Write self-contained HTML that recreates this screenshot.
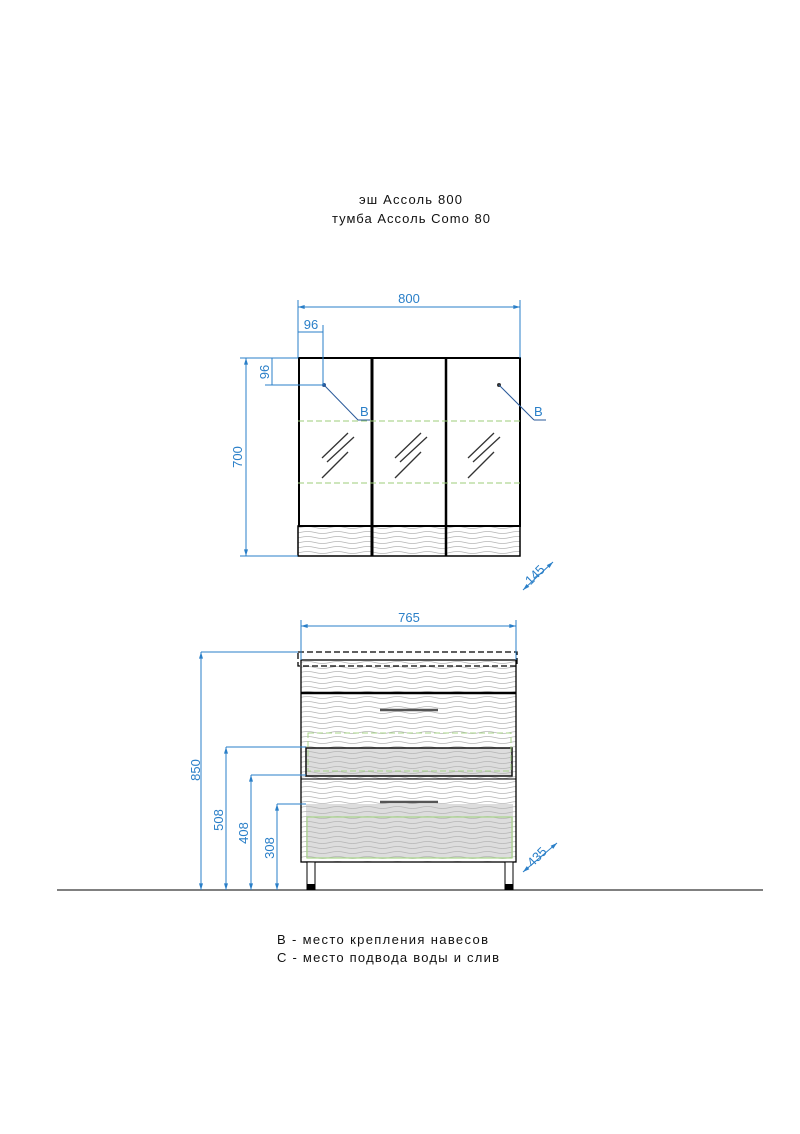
<!DOCTYPE html>
<html><head><meta charset="utf-8"><style>
html,body{margin:0;padding:0;background:#fff;}
svg{display:block;}
text{font-family:"Liberation Sans",sans-serif;}
</style></head><body>
<svg width="800" height="1134" viewBox="0 0 800 1134" xmlns="http://www.w3.org/2000/svg">
<defs>
<pattern id="wv" width="60" height="5" patternUnits="userSpaceOnUse">
<path d="M0 2.5 Q7.5 0.5 15 2.5 T30 2.5 T45 2.5 T60 2.5" fill="none" stroke="#b5b5b5" stroke-width="0.8"/>
</pattern>
<marker id="ar" viewBox="0 0 10 6" refX="10" refY="3" markerWidth="7" markerHeight="4" orient="auto-start-reverse"><path d="M0 0L10 3L0 6z" fill="#2a7fc8"/></marker>
</defs>
<g font-size="13" fill="#111">
<text x="359" y="204" textLength="103">эш Ассоль 800</text>
<text x="332" y="223" textLength="158">тумба Ассоль Como 80</text>
<text x="277" y="944" textLength="211">B - место крепления навесов</text>
<text x="277" y="962" textLength="222">C - место подвода воды и слив</text>
</g>

<!-- mirror cabinet -->
<rect x="298" y="526" width="222" height="30" fill="url(#wv)"/>
<rect x="298" y="526" width="222" height="30" fill="none" stroke="#000" stroke-width="1.5"/>
<rect x="299" y="358" width="221" height="168" fill="none" stroke="#000" stroke-width="2"/>
<line x1="372" y1="358" x2="372" y2="556" stroke="#000" stroke-width="3"/>
<line x1="446" y1="358" x2="446" y2="556" stroke="#000" stroke-width="2.5"/>
<line x1="298" y1="421" x2="520" y2="421" stroke="#9ccc7a" stroke-dasharray="6,3"/>
<line x1="298" y1="483" x2="520" y2="483" stroke="#9ccc7a" stroke-dasharray="6,3"/>
<g stroke="#333" stroke-width="1.3">
<line x1="322" y1="458" x2="348" y2="433"/><line x1="327" y1="462" x2="354" y2="437"/><line x1="322" y1="478" x2="348" y2="452"/>
<line x1="395" y1="458" x2="421" y2="433"/><line x1="400" y1="462" x2="427" y2="437"/><line x1="395" y1="478" x2="421" y2="452"/>
<line x1="468" y1="458" x2="494" y2="433"/><line x1="473" y1="462" x2="500" y2="437"/><line x1="468" y1="478" x2="494" y2="452"/>
</g>
<circle cx="324" cy="385" r="2" fill="#2a5a9a"/>
<circle cx="499" cy="385" r="2" fill="#333"/>
<g stroke="#2a5a9a" stroke-width="1" fill="none">
<line x1="324" y1="385" x2="358" y2="420"/><line x1="358" y1="420" x2="370" y2="420"/>
<line x1="499" y1="385" x2="534" y2="420"/><line x1="534" y1="420" x2="546" y2="420"/>
</g>
<g fill="#2a7fc8" font-size="13">
<text x="360" y="416">B</text><text x="534" y="416">B</text>
</g>

<!-- mirror dims -->
<g stroke="#2a7fc8" stroke-width="1" fill="none">
<line x1="298" y1="300" x2="298" y2="358"/><line x1="520" y1="300" x2="520" y2="358"/>
<line x1="298" y1="307" x2="520" y2="307" marker-start="url(#ar)" marker-end="url(#ar)"/>
<line x1="323" y1="325" x2="323" y2="385"/>
<line x1="298" y1="332" x2="323" y2="332"/>
<line x1="265" y1="385" x2="323" y2="385"/><line x1="265" y1="358" x2="298" y2="358"/>
<line x1="272" y1="358" x2="272" y2="385"/>
<line x1="240" y1="358" x2="298" y2="358"/><line x1="240" y1="556" x2="298" y2="556"/>
<line x1="246" y1="358" x2="246" y2="556" marker-start="url(#ar)" marker-end="url(#ar)"/>
<line x1="523" y1="590" x2="553" y2="562" marker-start="url(#ar)" marker-end="url(#ar)"/>
</g>
<g fill="#2a7fc8" font-size="13">
<text x="409" y="303" text-anchor="middle">800</text>
<text x="311" y="329" text-anchor="middle">96</text>
<text transform="translate(269,372) rotate(-90)" text-anchor="middle">96</text>
<text transform="translate(242,457) rotate(-90)" text-anchor="middle">700</text>
<text transform="translate(538,578) rotate(-45)" text-anchor="middle">145</text>
</g>

<!-- vanity -->
<rect x="301" y="660" width="215" height="202" fill="url(#wv)"/>
<rect x="306" y="804" width="207" height="54" fill="#ddd"/>
<rect x="306" y="804" width="207" height="54" fill="url(#wv)"/>
<rect x="306" y="748" width="206" height="28" fill="#ddd"/>
<rect x="306" y="748" width="206" height="28" fill="url(#wv)"/>
<rect x="306" y="748" width="206" height="28" fill="none" stroke="#111" stroke-width="1.5"/>
<rect x="308" y="733" width="203" height="38" fill="none" stroke="#a8d48a" stroke-dasharray="6,3"/>
<rect x="307" y="817" width="205" height="41" fill="none" stroke="#a8d48a" stroke-width="1.2"/>
<rect x="301" y="660" width="215" height="202" fill="none" stroke="#000" stroke-width="1.3"/>
<line x1="301" y1="693" x2="516" y2="693" stroke="#000" stroke-width="2.5"/>
<line x1="301" y1="779" x2="516" y2="779" stroke="#000" stroke-width="1"/>
<rect x="298" y="652" width="219" height="14" fill="none" stroke="#000" stroke-width="1.3" stroke-dasharray="6,3"/>
<g stroke="#555" stroke-width="2.5"><line x1="380" y1="710" x2="438" y2="710"/><line x1="380" y1="802" x2="438" y2="802"/></g>
<g fill="#fff" stroke="#000" stroke-width="1">
<rect x="307" y="862" width="8" height="27"/><rect x="505" y="862" width="8" height="27"/>
</g>
<rect x="307" y="884" width="8" height="5" fill="#000"/><rect x="505" y="884" width="8" height="5" fill="#000"/>
<line x1="57" y1="890" x2="763" y2="890" stroke="#000" stroke-width="1"/>

<!-- vanity dims -->
<g stroke="#2a7fc8" stroke-width="1" fill="none">
<line x1="301" y1="620" x2="301" y2="660"/><line x1="516" y1="620" x2="516" y2="660"/>
<line x1="301" y1="626" x2="516" y2="626" marker-start="url(#ar)" marker-end="url(#ar)"/>
<line x1="201" y1="652" x2="298" y2="652"/>
<line x1="201" y1="652" x2="201" y2="890" marker-start="url(#ar)" marker-end="url(#ar)"/>
<line x1="226" y1="747" x2="306" y2="747"/>
<line x1="226" y1="747" x2="226" y2="890" marker-start="url(#ar)" marker-end="url(#ar)"/>
<line x1="251" y1="775" x2="306" y2="775"/>
<line x1="251" y1="775" x2="251" y2="890" marker-start="url(#ar)" marker-end="url(#ar)"/>
<line x1="277" y1="804" x2="306" y2="804"/>
<line x1="277" y1="804" x2="277" y2="890" marker-start="url(#ar)" marker-end="url(#ar)"/>
<line x1="523" y1="872" x2="557" y2="843" marker-start="url(#ar)" marker-end="url(#ar)"/>
</g>
<g fill="#2a7fc8" font-size="13">
<text x="409" y="622" text-anchor="middle">765</text>
<text transform="translate(200,770) rotate(-90)" text-anchor="middle">850</text>
<text transform="translate(223,820) rotate(-90)" text-anchor="middle">508</text>
<text transform="translate(248,833) rotate(-90)" text-anchor="middle">408</text>
<text transform="translate(274,848) rotate(-90)" text-anchor="middle">308</text>
<text transform="translate(540,860) rotate(-45)" text-anchor="middle">435</text>
</g>
</svg>
</body></html>
